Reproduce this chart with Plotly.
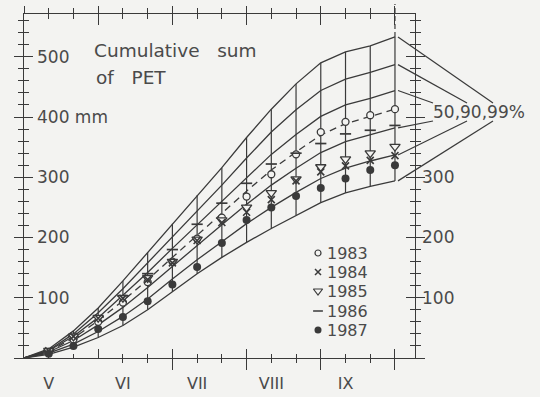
import plotly.graph_objects as go

# ---------------------------------------------------------------- data
dekads = list(range(16))            # 0 = 1 May ... 15 = 30 Sep (10-day steps)
month_labels = ["V", "VI", "VII", "VIII", "IX"]
month_label_dekad = [1, 4, 7, 10, 13]

# percentile envelopes of the cumulative PET sum (mm)
p99_hi = [0, 15, 45, 83, 128, 175, 223, 270, 316, 366, 413, 455, 490, 508, 518, 533]
p90_hi = [0, 13, 40, 75, 115, 158, 202, 245, 287, 332, 375, 412, 444, 463, 474, 487]
p50_hi = [0, 12, 36, 67, 104, 142, 182, 221, 260, 300, 338, 371, 401, 420, 431, 444]
median = [0, 11, 33, 62, 95, 130, 167, 204, 240, 277, 312, 342, 370, 389, 401, 413]
p50_lo = [0, 10, 29, 55, 84, 117, 152, 187, 221, 255, 287, 315, 341, 359, 371, 382]
p90_lo = [0, 8, 23, 44, 69, 98, 131, 163, 193, 223, 250, 275, 298, 315, 327, 337]
p99_lo = [0, 6, 18, 34, 54, 80, 110, 140, 167, 192, 215, 237, 258, 274, 285, 294]

# single years, values at dekads 1..15
years = ["1983", "1984", "1985", "1986", "1987"]
pet_1983 = [10, 31, 60, 92, 126, 160, 198, 233, 268, 305, 338, 375, 392, 403, 413]
pet_1984 = [12, 36, 66, 99, 130, 158, 195, 225, 242, 263, 294, 309, 319, 328, 336]
pet_1985 = [12, 36, 67, 100, 133, 160, 197, 229, 250, 274, 297, 317, 330, 340, 351]
pet_1986 = [12, 36, 68, 103, 140, 180, 222, 257, 290, 322, 340, 356, 372, 378, 386]
pet_1987 = [7, 20, 48, 68, 94, 122, 151, 191, 229, 250, 269, 282, 298, 312, 320]

left_tick_vals = [100, 200, 300, 400, 500]
left_tick_text = ["100", "200", "300", "400 mm", "500"]
right_tick_vals = [100, 200, 300]
right_tick_text = ["100", "200", "300"]

# ---------------------------------------------------------------- style
W, H = 540, 397
FX0, FX1 = 24, 415          # frame left / right (px)
FY0, FY1 = 14, 358          # frame top / bottom (px)
XMAX, YMAX = 15.81, 571
INK = "#3a3a3a"
TXT = "#4a4a4a"
BG = "#f3f3f1"
CLEAR = "rgba(0,0,0,0)"
FONT = "DejaVu Sans"
NB = "\u00a0"

xdom = [FX0 / W, FX1 / W]
ydom = [1 - FY1 / H, 1 - FY0 / H]


def px_x(d):
    return FX0 + d / XMAX * (FX1 - FX0)


def px_y(v):
    return FY1 - v / YMAX * (FY1 - FY0)


fig = go.Figure()

# vertical connectors between outer envelopes at every dekad
vx, vy = [], []
for d in dekads[1:]:
    vx += [d, d, None]
    vy += [p99_lo[d], p99_hi[d], None]
fig.add_trace(go.Scatter(x=vx, y=vy, mode="lines",
                         line=dict(color=INK, width=1.2), hoverinfo="skip"))

for curve, dash in [(p99_hi, "solid"), (p90_hi, "solid"), (p50_hi, "solid"),
                    (median, "7px,5px"),
                    (p50_lo, "solid"), (p90_lo, "solid"), (p99_lo, "solid")]:
    fig.add_trace(go.Scatter(x=dekads, y=curve, mode="lines",
                             line=dict(color=INK, width=1.3, dash=dash),
                             hoverinfo="skip"))

year_series = {"1983": pet_1983, "1984": pet_1984, "1985": pet_1985,
               "1986": pet_1986, "1987": pet_1987}
year_marker = {
    "1983": dict(symbol="circle", size=7, color=BG, line=dict(color=INK, width=1.3)),
    "1986": dict(symbol="line-ew", size=8, color=INK, line=dict(color=INK, width=1.7)),
    "1985": dict(symbol="triangle-down", size=9, color=BG, line=dict(color=INK, width=1.3)),
    "1984": dict(symbol="x-thin", size=7, color=INK, line=dict(color=INK, width=1.6)),
    "1987": dict(symbol="circle", size=8, color=INK, line=dict(width=0)),
}
for yr in ["1983", "1986", "1985", "1984", "1987"]:
    fig.add_trace(go.Scatter(x=dekads[1:], y=year_series[yr], mode="markers",
                             marker=year_marker[yr], name=yr, cliponaxis=False))

# ---- pixel overlay: bracket to the percentile label, legend, d15 extension
BRX = 398
brackets = [(p99_hi[-1], 493, 103), (p90_hi[-1], 467, 103), (p50_hi[-1], 433, 103),
            (p50_lo[-1], 433, 121), (p90_lo[-1], 467, 121), (p99_lo[-1], 493, 121)]
bx, by = [], []
for val, ex, ey in brackets:
    bx += [BRX, ex, None]
    by += [px_y(val), ey, None]
fig.add_trace(go.Scatter(x=bx, y=by, mode="lines", line=dict(color=INK, width=1.2),
                         xaxis="x6", yaxis="y7", hoverinfo="skip"))
fig.add_trace(go.Scatter(x=[px_x(15), px_x(15)], y=[px_y(p99_hi[-1]), 4],
                         mode="lines", line=dict(color=INK, width=1.2, dash="5px,3px"),
                         xaxis="x6", yaxis="y7", hoverinfo="skip"))

leg_y = [253, 272, 291, 311, 330]
leg_sym = {
    "1983": dict(symbol="circle", size=6, color=BG, line=dict(color=INK, width=1.2)),
    "1984": dict(symbol="x-thin", size=6, color=INK, line=dict(color=INK, width=1.5)),
    "1985": dict(symbol="triangle-down", size=8, color=BG, line=dict(color=INK, width=1.2)),
    "1986": dict(symbol="line-ew", size=7, color=INK, line=dict(color=INK, width=1.5)),
    "1987": dict(symbol="circle", size=7, color=INK, line=dict(width=0)),
}
for yr, ly in zip(years, leg_y):
    fig.add_trace(go.Scatter(x=[318], y=[ly], mode="markers", marker=leg_sym[yr],
                             xaxis="x6", yaxis="y7", hoverinfo="skip"))
    fig.add_annotation(x=325, y=ly, xref="x6", yref="y7", text=yr, showarrow=False,
                       xanchor="left", yanchor="middle",
                       font=dict(family=FONT, size=16, color=TXT))

fig.add_annotation(x=92, y=50, xref="x6", yref="y7",
                   text="Cumulative" + NB * 3 + "sum", showarrow=False,
                   xanchor="left", yanchor="middle",
                   font=dict(family=FONT, size=18.5, color=TXT))
fig.add_annotation(x=94, y=77, xref="x6", yref="y7",
                   text="of" + NB * 3 + "PET", showarrow=False,
                   xanchor="left", yanchor="middle",
                   font=dict(family=FONT, size=18.5, color=TXT))
fig.add_annotation(x=431, y=112, xref="x6", yref="y7",
                   text="50,90,99%", showarrow=False,
                   xanchor="left", yanchor="middle",
                   font=dict(family=FONT, size=17, color=TXT))

# empty traces so every overlay axis is instantiated
for xa, ya in [("x2", "y"), ("x3", "y"), ("x4", "y"), ("x5", "y"),
               ("x", "y2"), ("x", "y3"), ("x", "y4"), ("x", "y5"), ("x", "y6")]:
    fig.add_trace(go.Scatter(x=[None], y=[None], xaxis=xa, yaxis=ya,
                             mode="markers", hoverinfo="skip"))

# ---------------------------------------------------------------- axes
def xax(side, ticks, major, minor, line=False, overlay=True):
    d = dict(domain=xdom, anchor="y", range=[0, XMAX], side=side,
             tickmode="linear", tick0=0, dtick=3, ticks=ticks, ticklen=major,
             tickwidth=1.3, tickcolor=INK,
             minor=dict(ticks=ticks, ticklen=minor, tickwidth=1.2, tickcolor=INK,
                        tick0=0, dtick=1),
             showticklabels=False, showgrid=False, zeroline=False,
             showline=line, linecolor=INK, linewidth=1.4, fixedrange=True)
    if overlay:
        d["overlaying"] = "x"
    return d


def yax(side, ticks, major, minor, line=False, overlay=True):
    d = dict(domain=ydom, anchor="x", range=[0, YMAX], side=side,
             tickmode="linear", tick0=0, dtick=100, ticks=ticks, ticklen=major,
             tickwidth=1.3, tickcolor=INK,
             minor=dict(ticks=ticks, ticklen=minor, tickwidth=1.2, tickcolor=INK,
                        tick0=0, dtick=20),
             showticklabels=False, showgrid=False, zeroline=False,
             showline=line, linecolor=INK, linewidth=1.4, fixedrange=True)
    if overlay:
        d["overlaying"] = "y"
    return d


label_font = dict(family=FONT, size=17, color=TXT)

fig.update_layout(
    width=W, height=H, margin=dict(l=0, r=0, t=0, b=0),
    paper_bgcolor=BG, plot_bgcolor=CLEAR, showlegend=False,
    xaxis=xax("bottom", "outside", 11, 4, line=True, overlay=False),
    xaxis2=xax("bottom", "inside", 9, 4),
    xaxis3=xax("top", "outside", 7, 5, line=True),
    xaxis4=xax("top", "inside", 11, 5),
    xaxis5=dict(domain=xdom, anchor="y", overlaying="x", range=[0, XMAX], side="bottom",
                tickmode="array", tickvals=month_label_dekad, ticktext=month_labels,
                ticks="", showline=False, showgrid=False, zeroline=False,
                tickfont=dict(family=FONT, size=16, color=TXT), ticklabelstandoff=14),
    yaxis=yax("left", "outside", 9, 5, line=True, overlay=False),
    yaxis2=yax("left", "inside", 9, 5),
    yaxis3=dict(domain=ydom, anchor="x", overlaying="y", range=[0, YMAX], side="left",
                tickmode="array", tickvals=left_tick_vals, ticktext=left_tick_text,
                ticks="", ticklabelposition="inside", ticklabelstandoff=10,
                showline=False, showgrid=False, zeroline=False, tickfont=label_font),
    yaxis4=yax("right", "outside", 9, 5, line=True),
    yaxis5=yax("right", "inside", 9, 5),
    yaxis6=dict(domain=ydom, anchor="x", overlaying="y", range=[0, YMAX], side="right",
                tickmode="array", tickvals=right_tick_vals, ticktext=right_tick_text,
                ticks="", ticklabelstandoff=6,
                showline=False, showgrid=False, zeroline=False, tickfont=label_font),
    xaxis6=dict(domain=[0, 1], anchor="y7", range=[0, W], visible=False, fixedrange=True),
    yaxis7=dict(domain=[0, 1], anchor="x6", range=[H, 0], visible=False, fixedrange=True),
)

fig.write_html("out.html")
